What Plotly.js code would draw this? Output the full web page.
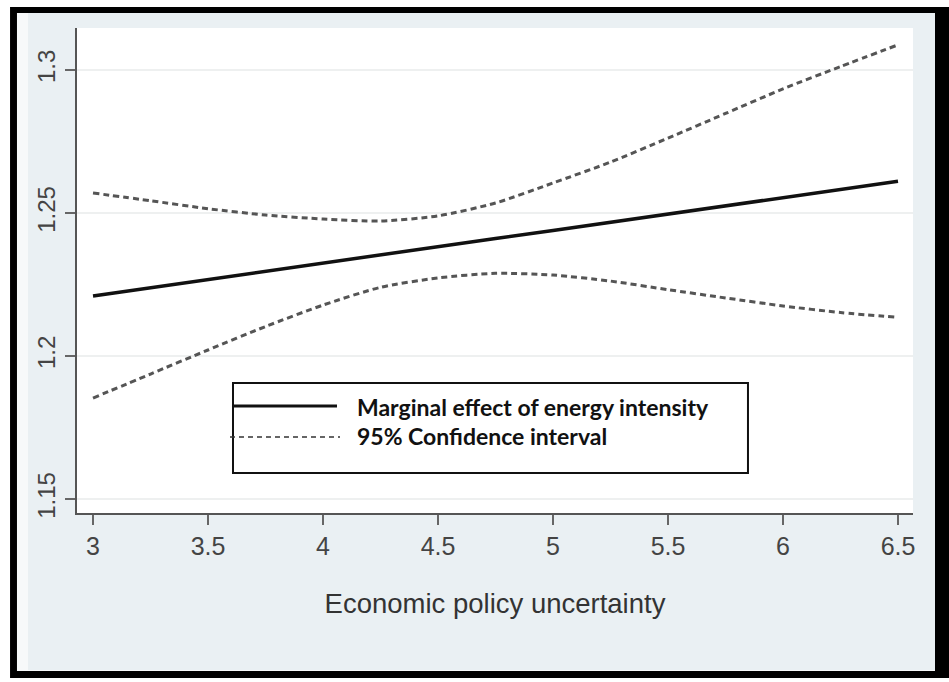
<!DOCTYPE html>
<html>
<head>
<meta charset="utf-8">
<script src="https://cdn.plot.ly/plotly-3.0.1.min.js"></script>
<style>html,body{margin:0;padding:0;background:#fff;}#chart{width:949px;height:682px;}</style>
</head>
<body>
<div id="chart"></div>
<script>
// Economic policy uncertainty (x)
const epu = [3.0, 3.25, 3.5, 3.75, 4.0, 4.25, 4.5, 4.75, 5.0, 5.25, 5.5, 5.75, 6.0, 6.25, 6.5];
// Marginal effect of energy intensity
const marginal = [1.2210, 1.2239, 1.2267, 1.2296, 1.2325, 1.2353, 1.2382, 1.2411, 1.2439, 1.2468, 1.2497, 1.2525, 1.2554, 1.2583, 1.2611];
// 95% confidence interval bounds
const upperCI = [1.2570, 1.2543, 1.2515, 1.2493, 1.2479, 1.2472, 1.2490, 1.2535, 1.2605, 1.2678, 1.2762, 1.2848, 1.2934, 1.3012, 1.3088];
const lowerCI = [1.1853, 1.1937, 1.2021, 1.2103, 1.2178, 1.2240, 1.2273, 1.2289, 1.2283, 1.2262, 1.2232, 1.2203, 1.2175, 1.2152, 1.2135];
const xTicks = [3, 3.5, 4, 4.5, 5, 5.5, 6, 6.5];
const xTickText = ["3", "3.5", "4", "4.5", "5", "5.5", "6", "6.5"];
const yTicks = [1.15, 1.2, 1.25, 1.3];
const yTickText = ["1.15", "1.2", "1.25", "1.3"];
const legendLabels = ["Marginal effect of energy intensity", "95% Confidence interval"];

const ciStyle = {color: '#555555', width: 3, dash: '6px,4px', shape: 'spline', smoothing: 0.7};
const traces = [
  {x: epu, y: upperCI, type: 'scatter', mode: 'lines', name: legendLabels[1], line: ciStyle, hoverinfo: 'x+y'},
  {x: epu, y: lowerCI, type: 'scatter', mode: 'lines', name: legendLabels[1], line: ciStyle, hoverinfo: 'x+y'},
  {x: epu, y: marginal, type: 'scatter', mode: 'lines', name: legendLabels[0], line: {color: '#111111', width: 3.5}, hoverinfo: 'x+y'}
];

const axisFont = {family: 'Liberation Sans, Arial, sans-serif', size: 25, color: '#444444'};
const layout = {
  width: 949, height: 682,
  margin: {l: 77, r: 36, t: 28, b: 169},
  paper_bgcolor: '#ffffff',
  plot_bgcolor: 'rgba(0,0,0,0)',
  showlegend: false,
  xaxis: {
    range: [2.9304, 6.5652], tickvals: xTicks, ticktext: xTickText,
    showgrid: false, zeroline: false,
    showline: true, linecolor: '#555555', linewidth: 2,
    ticks: 'outside', ticklen: 10, tickwidth: 2, tickcolor: '#666666',
    tickfont: axisFont,
    title: {text: 'Economic policy uncertainty', font: {family: 'Liberation Sans, Arial, sans-serif', size: 27.5, color: '#333333'}, standoff: 35}
  },
  yaxis: {
    range: [1.1451, 1.31469], tickvals: yTicks, ticktext: yTickText,
    showgrid: true, gridcolor: '#eef0f0', gridwidth: 1.5, zeroline: false,
    showline: true, linecolor: '#555555', linewidth: 2,
    ticks: 'outside', ticklen: 10, tickwidth: 2, tickcolor: '#666666',
    tickangle: -90, tickfont: {family: 'Liberation Sans, Arial, sans-serif', size: 24, color: '#444444'}
  },
  shapes: [
    // outer black frame
    {type: 'rect', xref: 'paper', yref: 'paper', x0: -0.0801, x1: 1.0431, y0: -0.3402, y1: 1.0433, fillcolor: '#000000', line: {width: 0}, layer: 'below'},
    {type: 'rect', xref: 'paper', yref: 'paper', x0: -0.0718, x1: 1.0263, y0: -0.3258, y1: 1.0309, fillcolor: '#f7f9fa', line: {width: 0}, layer: 'below'},
    {type: 'rect', xref: 'paper', yref: 'paper', x0: -0.0586, x1: 1.0263, y0: -0.3237, y1: 1.0309, fillcolor: '#eaf0f3', line: {width: 0}, layer: 'below'},
    {type: 'rect', xref: 'paper', yref: 'paper', x0: 0, x1: 1, y0: 0, y1: 1, fillcolor: '#ffffff', line: {width: 0}, layer: 'below'},
    // legend box
    {type: 'rect', xref: 'paper', yref: 'paper', x0: 0.1866, x1: 0.8026, y0: 0.0825, y1: 0.2680, fillcolor: '#ffffff', line: {color: '#111111', width: 2}, layer: 'above'},
    {type: 'line', xref: 'paper', yref: 'paper', x0: 0.1866, x1: 0.3110, y0: 0.2206, y1: 0.2206, line: {color: '#111111', width: 3}, layer: 'above'},
    {type: 'line', xref: 'paper', yref: 'paper', x0: 0.1830, x1: 0.3146, y0: 0.1567, y1: 0.1567, line: {color: '#333333', width: 1.5, dash: '5px,4px'}, layer: 'above'}
  ],
  annotations: [
    {xref: 'paper', yref: 'paper', x: 0.3320, y: 0.2186, xanchor: 'left', yanchor: 'middle', showarrow: false, text: '<b>' + legendLabels[0] + '</b>', font: {family: 'Lato, sans-serif', size: 23, color: '#111111'}},
    {xref: 'paper', yref: 'paper', x: 0.3320, y: 0.1587, xanchor: 'left', yanchor: 'middle', showarrow: false, text: '<b>' + legendLabels[1] + '</b>', font: {family: 'Lato, sans-serif', size: 23, color: '#111111'}}
  ]
};
Plotly.newPlot('chart', traces, layout, {displayModeBar: false, staticPlot: true});
</script>
</body>
</html>
